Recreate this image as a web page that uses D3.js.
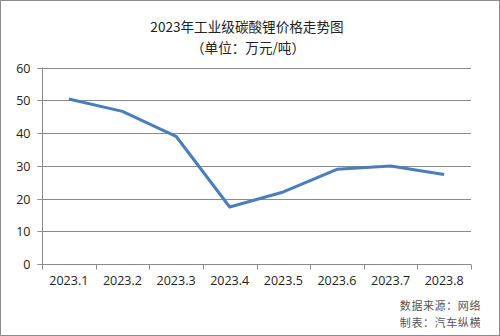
<!DOCTYPE html>
<html><head><meta charset="utf-8">
<script src="https://cdn.jsdelivr.net/npm/d3@7"></script>
<style>body{margin:0;background:#fff}svg{display:block}</style>
</head><body>
<script>
const categories = ["2023.1","2023.2","2023.3","2023.4","2023.5","2023.6","2023.7","2023.8"];
const prices = [50.4, 46.6, 39.0, 17.4, 22.0, 28.9, 29.9, 27.3];
const yTicks = [0,10,20,30,40,50,60];
const title = "2023年工业级碳酸锂价格走势图";
const subtitle = "（单位：万元/吨）";
const notes = ["数据来源：网络","制表：汽车纵横"];

(function(){
const W=500,H=336;
const svg=d3.select("body").append("svg").attr("width",W).attr("height",H);
svg.append("rect").attr("x",0.5).attr("y",0.5).attr("width",W-1).attr("height",H-1)
  .attr("fill","#fff").attr("stroke","#8c8c8c");

const pL=42,pR=471,pT=67.5,pB=264;
const x=d3.scaleBand().domain(categories).range([pL,pR]);
const y=d3.scaleLinear().domain([0,60]).range([pB,pT]);

const cjk='"Noto Sans CJK SC", sans-serif';
const num='"Open Sans","Noto Sans", sans-serif';

svg.append("text").attr("x",247).attr("y",32).attr("text-anchor","middle")
  .attr("font-family",cjk).attr("font-size",13.6).attr("fill","#222").text(title);
svg.append("text").attr("x",248).attr("y",53).attr("text-anchor","middle")
  .attr("font-family",cjk).attr("font-size",13.6).attr("fill","#222").text(subtitle);

// gridlines
svg.append("g").selectAll("line").data(yTicks.filter(d=>d>0)).join("line")
  .attr("x1",pL).attr("x2",pR)
  .attr("y1",d=>Math.round(y(d))+0.5).attr("y2",d=>Math.round(y(d))+0.5)
  .attr("stroke","#8a8a8a").attr("stroke-width",1);

// y axis
const ya=svg.append("g").attr("transform",`translate(${pL+0.5},0)`)
  .call(d3.axisLeft(y).tickValues(yTicks).tickSize(5).tickPadding(7).tickFormat(d3.format("d")));
ya.select(".domain").attr("stroke","#8a8a8a").attr("d",`M0,${pT}V${pB}`);
ya.selectAll(".tick line").attr("stroke","#8a8a8a");
ya.selectAll(".tick").attr("transform",d=>`translate(0,${Math.round(y(d))+0.5})`);
ya.selectAll("text").attr("font-family",num).attr("font-size",12.5).attr("fill","#222");

// x axis
const xa=svg.append("g").attr("transform",`translate(0,${pB+0.5})`)
  .call(d3.axisBottom(x).tickSize(0).tickPadding(12));
xa.select(".domain").attr("stroke","#8a8a8a").attr("d",`M${pL},0H${pR}`);
xa.selectAll("text").attr("font-family",num).attr("font-size",12.5).attr("fill","#222");
const bounds=categories.map(c=>x(c)).concat([pR]);
xa.append("g").selectAll("line").data(bounds).join("line")
  .attr("x1",d=>Math.round(d)+0.5).attr("x2",d=>Math.round(d)+0.5).attr("y1",0).attr("y2",5)
  .attr("stroke","#8a8a8a");

// line
const line=d3.line().x((d,i)=>x(categories[i])+x.bandwidth()/2).y(d=>y(d));
svg.append("path").datum(prices).attr("d",line).attr("fill","none")
  .attr("stroke","#4a7ebb").attr("stroke-width",3).attr("stroke-linejoin","round");

// notes
notes.forEach((t,i)=>{
  svg.append("text").attr("x",481).attr("y",310+i*17).attr("text-anchor","end")
    .attr("font-family",cjk).attr("font-size",11).attr("letter-spacing",0.6).attr("fill","#555").text(t);
});
})();
</script>
</body></html>
